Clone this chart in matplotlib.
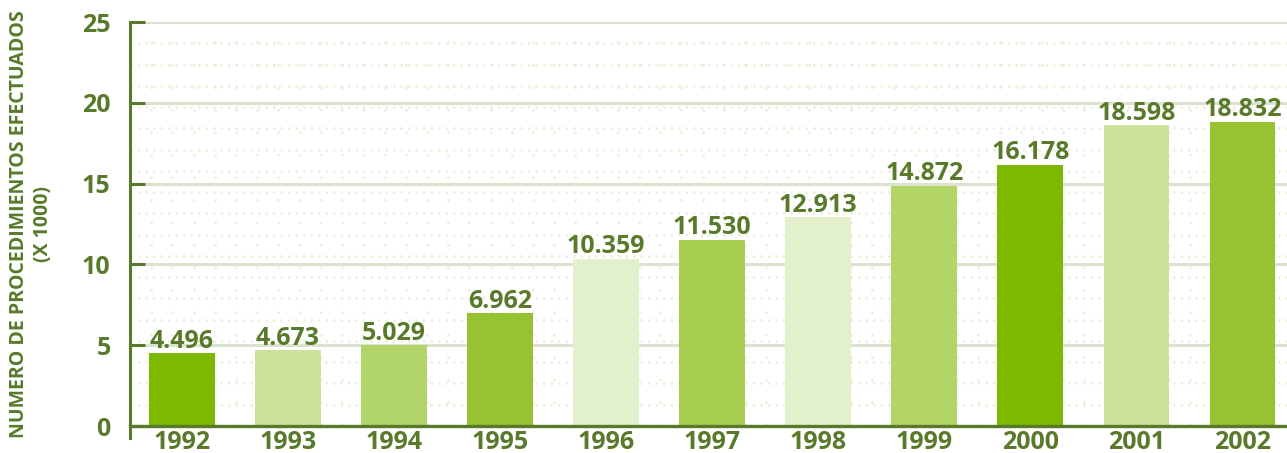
import numpy as np
import matplotlib.pyplot as plt
from matplotlib.lines import Line2D

years = ["1992", "1993", "1994", "1995", "1996", "1997",
         "1998", "1999", "2000", "2001", "2002"]
values = [4.496, 4.673, 5.029, 6.962, 10.359, 11.530,
          12.913, 14.872, 16.178, 18.598, 18.832]
labels = ["4.496", "4.673", "5.029", "6.962", "10.359", "11.530",
          "12.913", "14.872", "16.178", "18.598", "18.832"]
bar_colors = ["#7db900", "#cbe39a", "#b2d56a", "#97c332", "#e3f0cc", "#a8cf50",
              "#e3f0cc", "#b3d568", "#7db900", "#cbe39a", "#97c332"]
yticks = [0, 5, 10, 15, 20, 25]

dark = "#587a2a"
grid_col = "#dce2d0"
dot_col = "#eaf0da"

plt.rcParams['font.family'] = ['Open Sans', 'DejaVu Sans']

fig = plt.figure(figsize=(12.87, 4.53), dpi=100)
ax = fig.add_axes([130 / 1287, 1 - 426 / 453, 1 - 130 / 1287, (426 - 22) / 453])

x = np.arange(len(years))
ax.set_xlim(-0.49, len(years) - 1 + 0.42)
ax.set_ylim(0, 25)

# faint dotted background texture
for yy in np.arange(0, 25.01, 25 / 19):
    ax.axhline(yy, color=dot_col, lw=1.8, ls=(0, (1, 2.0)), zorder=0)
for xx in np.arange(-0.49, 10.5, 0.2):
    ax.axvline(xx, color=dot_col, lw=1.8, ls=(0, (1, 8)), zorder=0)

for yy in yticks[1:]:
    ax.axhline(yy, color=grid_col, lw=2.2, zorder=1)

ax.bar(x, values, width=0.62, color=bar_colors, zorder=2)

for xi, v, lab in zip(x, values, labels):
    ax.text(xi, v - 0.05, lab, ha='center', va='bottom', fontsize=18,
            fontweight='bold', color=dark, zorder=3)

ax.set_xticks(x)
ax.set_xticklabels(years)
ax.set_yticks(yticks)
ax.tick_params(axis='x', length=0, pad=3, labelsize=18, labelcolor=dark)
ax.tick_params(axis='y', direction='in', length=11, width=2.2, color=dark,
               pad=14, labelsize=18, labelcolor=dark)
for lab in ax.get_xticklabels() + ax.get_yticklabels():
    lab.set_fontweight('bold')

for s in ['top', 'right']:
    ax.spines[s].set_visible(False)
ax.spines['left'].set_color(dark)
ax.spines['left'].set_linewidth(2.2)
ax.spines['bottom'].set_color(dark)
ax.spines['bottom'].set_linewidth(2.4)
ax.add_line(Line2D([0, 0], [0, -0.03], transform=ax.transAxes, color=dark,
                   lw=2.2, clip_on=False))

fig.text(19 / 1287, 0.505, "NUMERO DE PROCEDIMIENTOS EFECTUADOS", rotation=90,
         ha='center', va='center', fontsize=14, fontweight='bold', color=dark)
fig.text(43 / 1287, 0.505, "(X 1000)", rotation=90,
         ha='center', va='center', fontsize=14, fontweight='bold', color=dark)

fig.savefig("out.png", dpi=100)
